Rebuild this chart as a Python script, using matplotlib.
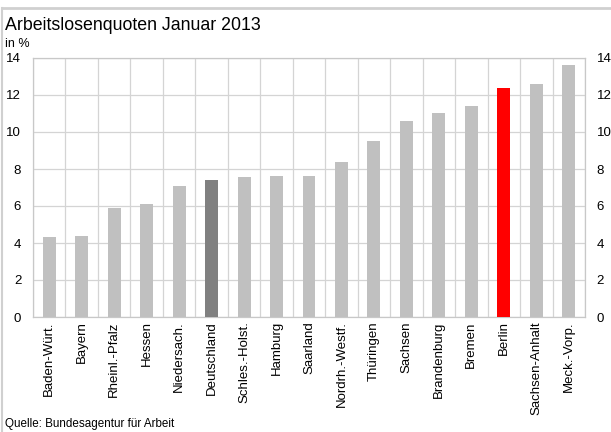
import numpy as np
import matplotlib
matplotlib.use("Agg")
import matplotlib.pyplot as plt
from matplotlib.lines import Line2D

# ─── DATA ─────────────────────────────────────────────────────────
laender = ["Baden-Würt.", "Bayern", "Rheinl.-Pfalz", "Hessen", "Niedersach.",
           "Deutschland", "Schles.-Holst.", "Hamburg", "Saarland",
           "Nordrh.-Westf.", "Thüringen", "Sachsen", "Brandenburg", "Bremen",
           "Berlin", "Sachsen-Anhalt", "Meck.-Vorp."]
quoten = [4.3, 4.4, 5.9, 6.1, 7.1, 7.4, 7.55, 7.6, 7.6, 8.4, 9.5, 10.6,
          11.0, 11.4, 12.4, 12.6, 13.6]
y_ticks = [0, 2, 4, 6, 8, 10, 12, 14]

colors = []
for name in laender:
    if name == "Deutschland":
        colors.append("#808080")
    elif name == "Berlin":
        colors.append("#ff0000")
    else:
        colors.append("#c0c0c0")

plt.rcParams['font.family'] = ['Liberation Sans', 'DejaVu Sans']

fig = plt.figure(figsize=(6.11, 4.32), dpi=100)
ax = fig.add_axes([33/611, 1 - 317/432, 552/611, 259/432])

x = np.arange(len(laender))
ax.bar(x, quoten, width=0.4, color=colors, zorder=3)

ax.set_xlim(-0.5, len(laender) - 0.5)
ax.set_ylim(0, 14)
ax.set_yticks(y_ticks)
ax.set_xticks(x)
ax.set_xticklabels(laender, rotation=90, fontsize=9.5)
ax.set_xticks(np.arange(-0.5, len(laender)), minor=True)
ax.tick_params(axis='x', which='both', length=0, pad=3)
ax.tick_params(axis='y', length=0, labelsize=9.5, pad=8.5, labelleft=True, labelright=True)
ax.grid(axis='y', color='#d4d4d4', lw=0.9, zorder=0)
ax.grid(axis='x', which='minor', color='#d4d4d4', lw=0.9, zorder=0)
ax.grid(axis='x', which='major', visible=False)
for s in ax.spines.values():
    s.set_color('#c8c8c8')
    s.set_linewidth(0.9)

# ─── FRAME & TEXTS ───────────────────────────────────────────────
fig.add_artist(Line2D([2/611, 1], [1 - 8/432, 1 - 8/432], color='#d0d0d0', lw=2))
fig.add_artist(Line2D([2/611, 2/611], [0, 1 - 8/432], color='#d0d0d0', lw=1.5))
fig.text(5/611, 1 - 30/432, "Arbeitslosenquoten Januar 2013", fontsize=12.8)
fig.text(5/611, 1 - 47/432, "in %", fontsize=9)
fig.text(5/611, 1 - 427/432, "Quelle: Bundesagentur für Arbeit", fontsize=8.4)

fig.savefig("out.png", dpi=100)
